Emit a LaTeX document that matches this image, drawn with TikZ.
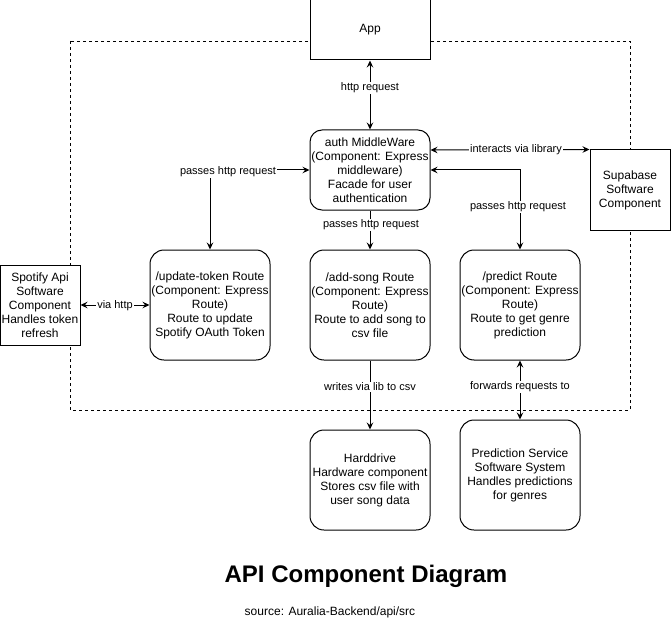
\documentclass[tikz,border=0pt]{standalone}
\usepackage{fontspec}
\setmainfont{Liberation Sans}
\usetikzlibrary{arrows.meta}
\begin{document}
\begin{tikzpicture}[x=1pt,y=-1pt,
  >={Stealth[length=7pt,width=6.5pt,inset=2.5pt]},
  box/.style={draw,line width=1pt,fill=white,align=center,inner sep=0pt,
              font=\fontsize{12}{14}\selectfont},
  rbox/.style={box,rounded corners=14pt},
  lbl/.style={fill=white,inner sep=1pt,font=\fontsize{11}{13}\selectfont},
  conn/.style={line width=1pt},
  boundary/.style={line width=0.8pt,dash pattern=on 3pt off 3pt}
]
\fill[white] (0,0) rectangle (671,631);
\useasboundingbox (0,0) rectangle (671,631);

% system boundary
\draw[boundary] (70,41) rectangle (630,410);

% nodes
\node[box,minimum width=120pt,minimum height=60pt] (app) at (370,30) {App};
\node[rbox,rounded corners=12pt,minimum width=120pt,minimum height=80pt] (auth) at (370,170)
  {auth MiddleWare\\(Component: Express\\middleware)\\Facade for user\\authentication};
\node[box,minimum width=80pt,minimum height=80pt] (supa) at (630,190)
  {Supabase\\Software\\Component};
\node[box,minimum width=80pt,minimum height=80pt] (spot) at (40,305)
  {Spotify Api\\Software\\Component\\Handles token\\refresh};
\node[rbox,minimum width=120pt,minimum height=110pt] (upd) at (210,305)
  {/update-token Route\\(Component: Express\\Route)\\Route to update\\Spotify OAuth Token};
\node[rbox,minimum width=120pt,minimum height=110pt] (add) at (370,305)
  {/add-song Route\\(Component: Express\\Route)\\Route to add song to\\csv file};
\node[rbox,minimum width=120pt,minimum height=110pt] (pred) at (520,305)
  {/predict Route\\(Component: Express\\Route)\\Route to get genre\\prediction};
\node[rbox,minimum width=120pt,minimum height=100pt] (hdd) at (370,480)
  {Harddrive\\Hardware component\\Stores csv file with\\user song data};
\node[rbox,minimum width=120pt,minimum height=110pt] (psvc) at (520,475)
  {Prediction Service\\Software System\\Handles predictions\\for genres};

% connectors
\draw[conn,<->] (app.south) -- (auth.north);
\node[lbl] (l1) at (370,88) {http request};

\draw[conn,<->] ([yshift=20pt]auth.east) -- (supa.north west);
\node[lbl] (l2) at (516,150) {interacts via library};

\draw[conn,<->] (auth.west) -| (upd.north);
\node[lbl] (l3) at (228,172) {passes http request};

\draw[conn,<->] (auth.east) -| (pred.north);
\node[lbl] (l4) at (518,207) {passes http request};

\draw[conn,->] (auth.south) -- (add.north);
\node[lbl] (l5) at (371,225) {passes http request};

\draw[conn,<->] (spot.east) -- (upd.west);
\node[lbl] (l6) at (115,306) {via http};

\draw[conn,->] (add.south) -- (hdd.north);
\node[lbl] (l7) at (370,387) {writes via lib to csv};

\draw[conn,<->] (pred.south) -- (psvc.north);
\node[lbl] (l8) at (520,387) {forwards requests to};

% titles
\node[font=\fontsize{24}{28}\selectfont\bfseries] (title) at (366,576) {API Component Diagram};
\node[font=\fontsize{12}{14}\selectfont] (src) at (330,612) {source: Auralia-Backend/api/src};
\end{tikzpicture}
\end{document}
